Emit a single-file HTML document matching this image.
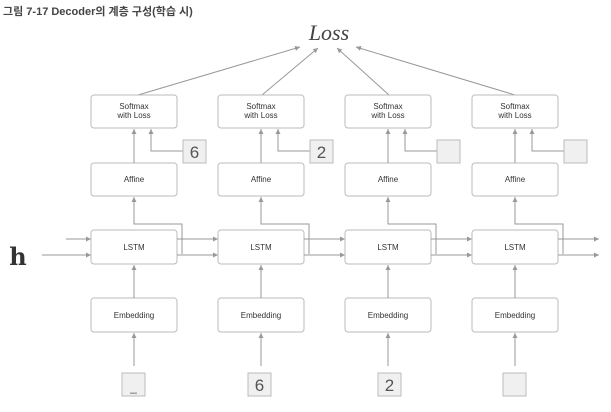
<!DOCTYPE html>
<html><head><meta charset="utf-8"><style>
html,body{margin:0;padding:0;background:#fff;}
svg{display:block}
.b{fill:#fff;stroke:#bbb;stroke-width:1}
.l{stroke:#999;stroke-width:1;fill:none}
.t{font-family:"Liberation Sans",sans-serif;font-size:8px;fill:#333;text-anchor:middle}
.s{fill:#f0f0f0;stroke:#bbb}
.n{font-family:"Liberation Sans",sans-serif;font-size:17px;fill:#555;text-anchor:middle}
</style></head><body>
<svg width="611" height="412" viewBox="0 0 611 412" xmlns="http://www.w3.org/2000/svg">
<defs><marker id="a" markerWidth="6" markerHeight="6" refX="5" refY="3" orient="auto"><path d="M0,0.5 L5,3 L0,5.5z" fill="#999"/></marker></defs>
<text x="3" y="15" font-family="Liberation Sans,'Noto Sans CJK KR',sans-serif" font-size="11" font-weight="bold" fill="#444">그림 7-17  Decoder의 계층 구성(학습 시)</text>
<text x="329" y="40" font-family="Liberation Serif,serif" font-style="italic" font-size="22" fill="#444" text-anchor="middle">Loss</text>
<text x="18" y="265" font-family="DejaVu Serif,serif" font-weight="bold" font-size="24" fill="#333" text-anchor="middle">h</text>
<line class="l" x1="138" y1="95" x2="300" y2="47" marker-end="url(#a)"/>
<line class="l" x1="262" y1="95" x2="318" y2="48" marker-end="url(#a)"/>
<line class="l" x1="389" y1="95" x2="337" y2="48" marker-end="url(#a)"/>
<line class="l" x1="515" y1="95" x2="356" y2="47" marker-end="url(#a)"/>
<line class="l" x1="66" y1="239" x2="91" y2="239" marker-end="url(#a)"/>
<line class="l" x1="42" y1="255" x2="91" y2="255" marker-end="url(#a)"/>
<g id="c">
<rect class="b" x="91" y="95" width="86" height="33" rx="3"/>
<text class="t" x="134" y="109">Softmax</text><text class="t" x="134" y="118">with Loss</text>
<rect class="b" x="91" y="163" width="86" height="33" rx="3"/>
<text class="t" x="134" y="182">Affine</text>
<rect class="b" x="91" y="230" width="86" height="34" rx="3"/>
<text class="t" x="134" y="250">LSTM</text>
<rect class="b" x="91" y="298" width="86" height="34" rx="3"/>
<text class="t" x="134" y="318">Embedding</text>
<line class="l" x1="134" y1="163" x2="134" y2="129" marker-end="url(#a)"/>
<path class="l" d="M182,254 L182,224 L134,224 L134,197" marker-end="url(#a)"/>
<line class="l" x1="134" y1="298" x2="134" y2="265" marker-end="url(#a)"/>
<line class="l" x1="134" y1="366" x2="134" y2="333" marker-end="url(#a)"/>
<path class="l" d="M183,151 L151,151 L151,129" marker-end="url(#a)"/>
<line class="l" x1="177" y1="239" x2="218" y2="239" marker-end="url(#a)"/>
<line class="l" x1="177" y1="255" x2="218" y2="255" marker-end="url(#a)"/>
</g>
<use href="#c" x="127"/>
<use href="#c" x="254"/>
<use href="#c" x="381"/>
<g>
<rect class="s" x="183" y="140" width="23" height="23"/><text class="n" x="194.5" y="158">6</text>
<rect class="s" x="310" y="140" width="23" height="23"/><text class="n" x="321.5" y="158">2</text>
<rect class="s" x="437" y="140" width="23" height="23"/>
<rect class="s" x="564" y="140" width="23" height="23"/>
<rect class="s" x="122" y="373" width="23" height="23"/><text class="n" x="133.5" y="391" style="font-size:12px">_</text>
<rect class="s" x="248" y="373" width="23" height="23"/><text class="n" x="259.5" y="391">6</text>
<rect class="s" x="378" y="373" width="23" height="23"/><text class="n" x="389.5" y="391">2</text>
<rect class="s" x="503" y="373" width="23" height="23"/>
</g>
</svg>
</body></html>
